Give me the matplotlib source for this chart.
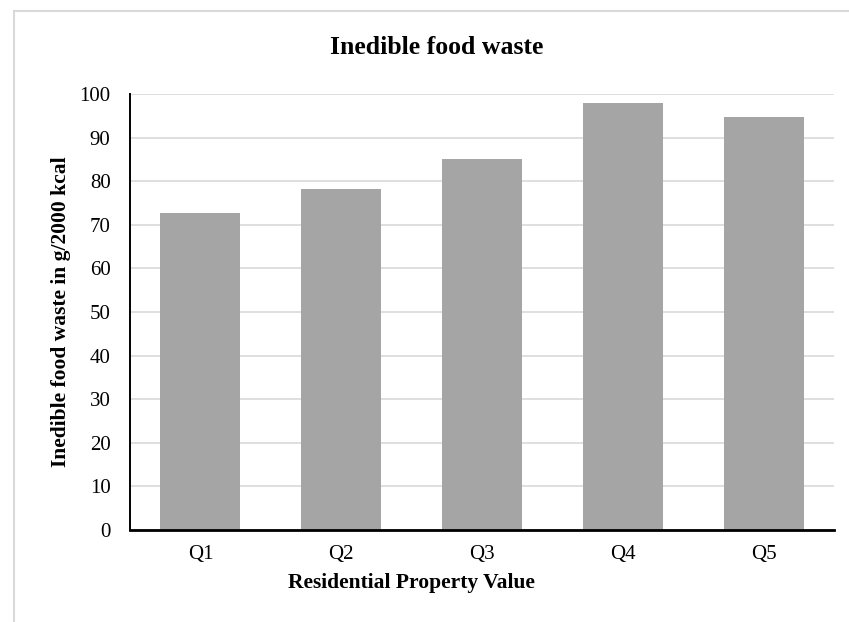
import matplotlib
matplotlib.use("Agg")
import matplotlib.pyplot as plt
from matplotlib.lines import Line2D

categories = ["Q1", "Q2", "Q3", "Q4", "Q5"]
waste = [72.6, 78.1, 85.2, 98.0, 94.7]
yticks = [0, 10, 20, 30, 40, 50, 60, 70, 80, 90, 100]

plt.rcParams.update({'font.family': ['Liberation Serif', 'DejaVu Serif']})

fig = plt.figure(figsize=(8.49, 6.22), dpi=100)
ax = fig.add_axes([130 / 849, 92 / 622, 704 / 849, 436 / 622])

ax.bar(range(len(categories)), waste, width=0.567, color='#A5A5A5', zorder=2)

ax.set_xlim(-0.5, len(categories) - 0.5)
ax.set_ylim(0, 100)
ax.set_yticks(yticks)
ax.set_xticks(range(len(categories)))
ax.set_xticklabels(categories)
ax.grid(axis='y', color='#D9D9D9', linewidth=1.2, zorder=0)
ax.set_axisbelow(True)
ax.tick_params(axis='both', length=0, labelsize=15)
ax.tick_params(axis='x', pad=11)
ax.tick_params(axis='y', pad=14)

for s in ['top', 'right']:
    ax.spines[s].set_visible(False)
ax.spines['left'].set_linewidth(1.4)
ax.spines['bottom'].set_linewidth(2.0)
ax.spines['left'].set_color('black')
ax.spines['bottom'].set_color('black')

ax.text((437 - 130) / 704, (530 - 47) / 436, 'Inedible food waste',
        transform=ax.transAxes, ha='center', va='center',
        fontsize=18.5, fontweight='bold')
ax.set_xlabel('Residential Property Value', fontsize=15.5, fontweight='bold',
              va='center')
ax.xaxis.set_label_coords((411 - 130) / 704, (530 - 583) / 436)
ax.set_ylabel('Inedible food waste in g/2000 kcal', fontsize=15.5,
              fontweight='bold', va='center')
ax.yaxis.set_label_coords((61 - 130) / 704, 0.5)

# light outer frame of the chart area (cropped on right and bottom)
fig.add_artist(Line2D([14 / 849, 14 / 849], [0, 1 - 11 / 622],
                      transform=fig.transFigure, color='#D9D9D9', lw=1.5))
fig.add_artist(Line2D([14 / 849, 1], [1 - 11 / 622, 1 - 11 / 622],
                      transform=fig.transFigure, color='#D9D9D9', lw=1.5))

fig.savefig('out.png', dpi=100)
